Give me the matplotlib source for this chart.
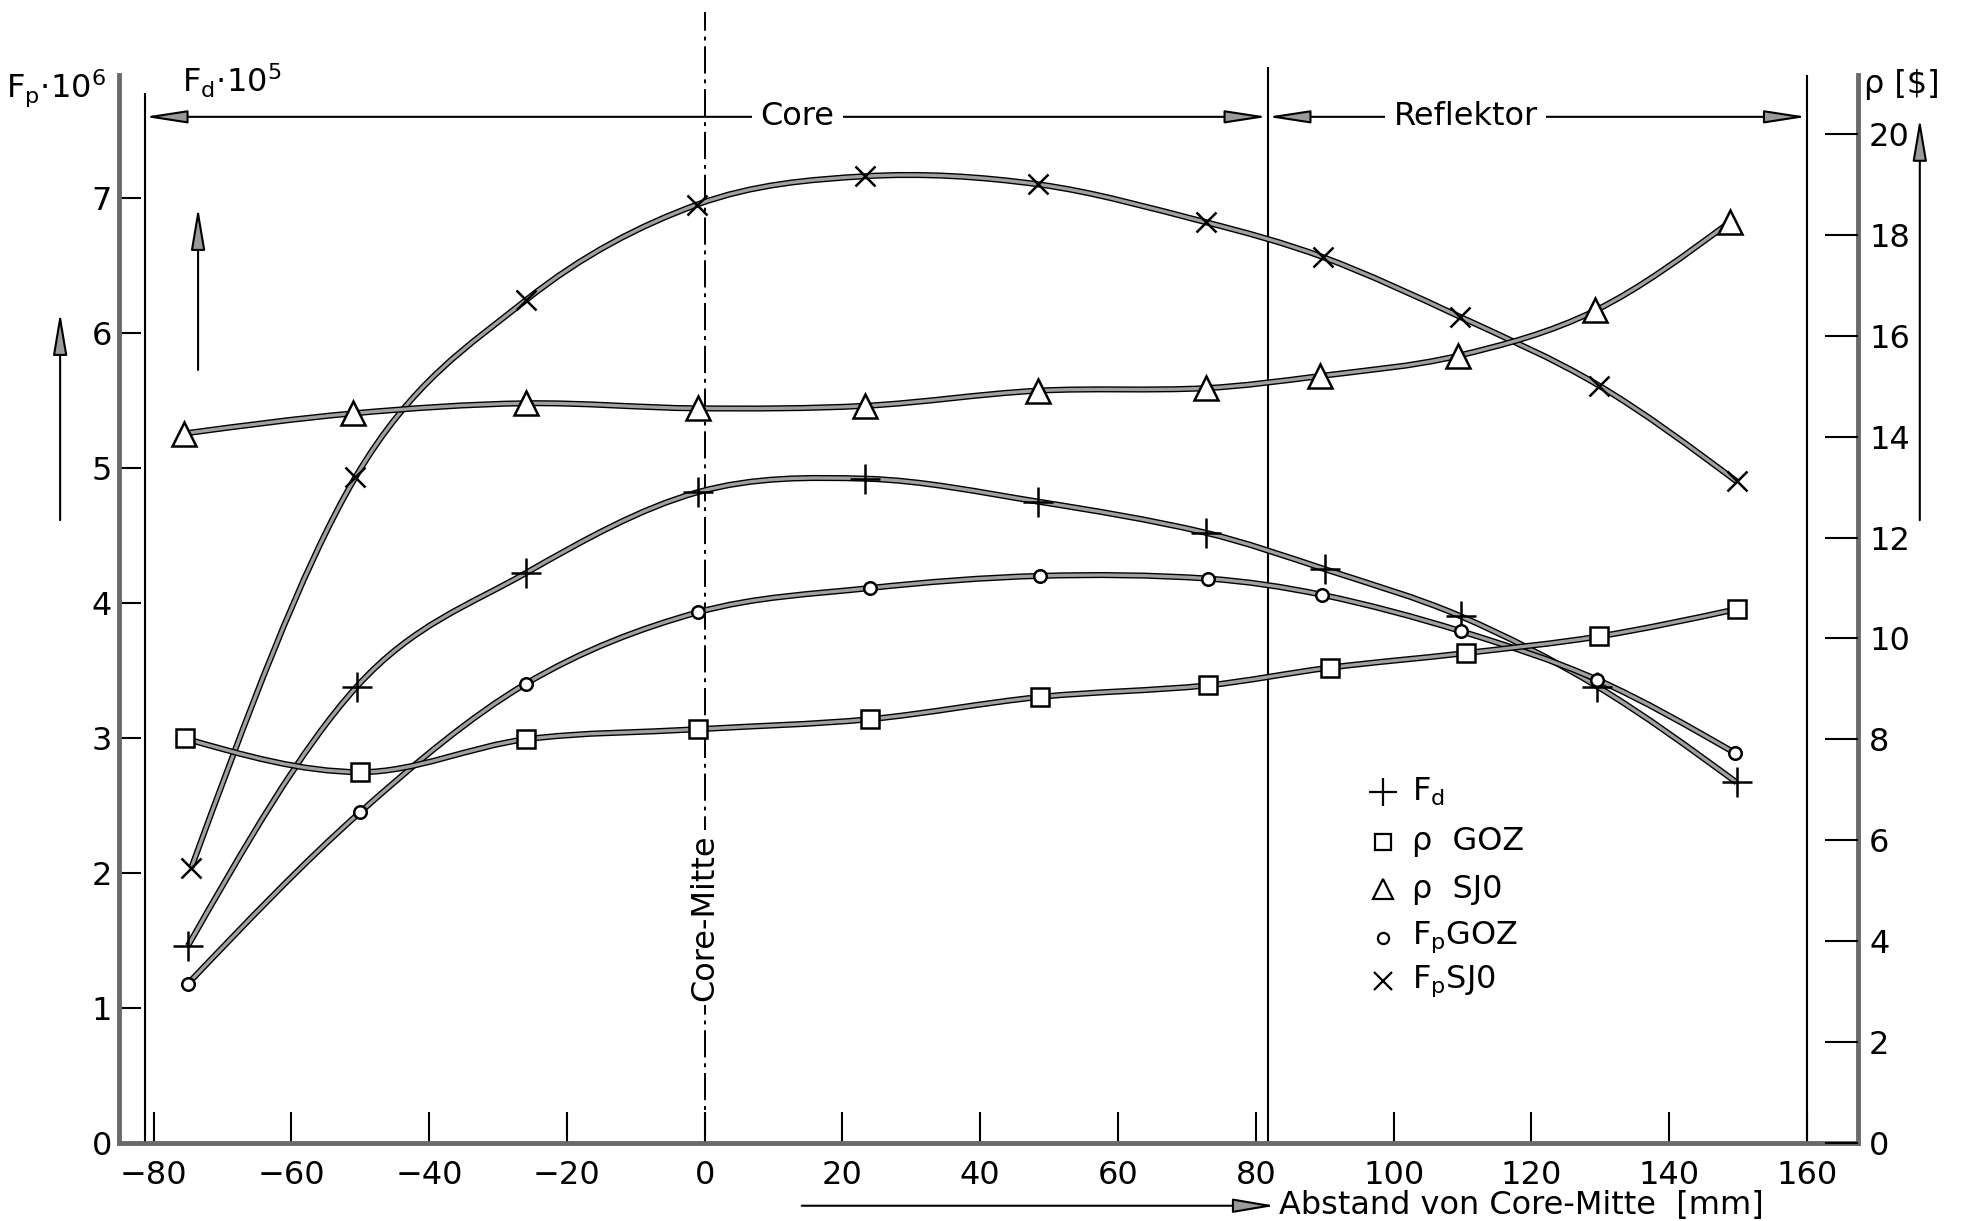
import matplotlib
matplotlib.use('Agg')
import matplotlib.pyplot as plt
import matplotlib.patheffects as pe
from matplotlib.path import Path
from matplotlib.patches import PathPatch, FancyArrowPatch
import numpy as np

plt.rcParams['font.family'] = ['DejaVu Sans']
plt.rcParams['mathtext.fontset'] = 'dejavusans'

# --- data (x in mm, Fp/Fd on left axis, rho on right axis)
x_fd = [-75, -50.5, -26, -1, 23.3, 48.4, 72.7, 90, 109.8, 129.6, 149.8]
fd = [1.46, 3.38, 4.22, 4.82, 4.92, 4.75, 4.52, 4.25, 3.90, 3.38, 2.67]

x_fp_goz = [-75, -50, -26, -1, 24, 48.7, 73, 89.6, 109.8, 129.6, 149.5]
fp_goz = [1.18, 2.45, 3.40, 3.93, 4.11, 4.20, 4.18, 4.06, 3.79, 3.43, 2.89]

x_fp_sjo = [-74.5, -50.7, -26, -1.1, 23.3, 48.4, 72.7, 89.8, 109.6, 129.8, 149.8]
fp_sjo = [2.04, 4.93, 6.24, 6.95, 7.16, 7.10, 6.82, 6.56, 6.12, 5.61, 4.90]

x_rho_goz = [-75.5, -50, -26, -1, 24, 48.7, 73, 90.7, 110.5, 129.8, 149.8]
rho_goz = [8.02, 7.35, 8.0, 8.2, 8.40, 8.84, 9.07, 9.42, 9.71, 10.04, 10.58]

x_rho_sjo = [-75.6, -51, -26, -1, 23.3, 48.4, 72.7, 89.3, 109.3, 129.3, 148.9]
rho_sjo = [14.06, 14.46, 14.66, 14.56, 14.61, 14.91, 14.96, 15.2, 15.6, 16.5, 18.26]

xticks = [-80, -60, -40, -20, 0, 20, 40, 60, 80, 100, 120, 140, 160]
left_ticks = [0, 1, 2, 3, 4, 5, 6, 7]
right_ticks = [0, 2, 4, 6, 8, 10, 12, 14, 16, 18, 20]

core_left = -81.3
core_right = 81.7
refl_right = 160

FS = 23
LINE_FX = [pe.Stroke(linewidth=4.4, foreground='black'), pe.Normal()]


def smooth_path(x, y):
    # cubic hermite through the measured points (x-parametrised), as bezier segments
    x = np.asarray(x, float)
    y = np.asarray(y, float)
    n = len(x)
    s = np.zeros(n)
    for i in range(n):
        if i == 0:
            s[i] = (y[1] - y[0]) / (x[1] - x[0])
        elif i == n - 1:
            s[i] = (y[-1] - y[-2]) / (x[-1] - x[-2])
        else:
            s[i] = (y[i + 1] - y[i - 1]) / (x[i + 1] - x[i - 1])
    # ends: make the curve bend naturally instead of straight
    s[0] = 1.5 * (y[1] - y[0]) / (x[1] - x[0]) - 0.5 * s[1]
    s[-1] = 1.5 * (y[-1] - y[-2]) / (x[-1] - x[-2]) - 0.5 * s[-2]
    verts = [(x[0], y[0])]
    codes = [Path.MOVETO]
    for i in range(n - 1):
        dx = x[i + 1] - x[i]
        verts += [(x[i] + dx / 3, y[i] + s[i] * dx / 3),
                  (x[i + 1] - dx / 3, y[i + 1] - s[i + 1] * dx / 3),
                  (x[i + 1], y[i + 1])]
        codes += [Path.CURVE4] * 3
    return Path(verts, codes)


def draw_series(ax, x, y, marker, ms, mfc='white'):
    patch = PathPatch(smooth_path(x, y), facecolor='none', edgecolor='#a0a0a0',
                      linewidth=2.4, zorder=2)
    patch.set_path_effects(LINE_FX)
    ax.add_patch(patch)
    ax.plot(x, y, linestyle='none', marker=marker, markersize=ms, mfc=mfc,
            mec='black', mew=1.8, zorder=4)


fig = plt.figure(figsize=(19.65, 12.21), dpi=100)
ax = fig.add_axes([0.0606, 0.0639, 0.8849, 0.8747])
ax2 = ax.twinx()

ax.set_xlim(-85, 167.4)
ax.set_ylim(0, 7.91)
ax2.set_ylim(0, 7.91 * 2.676)

draw_series(ax, x_fp_sjo, fp_sjo, 'x', 14, mfc='black')
draw_series(ax, x_fd, fd, '+', 22, mfc='black')
draw_series(ax, x_fp_goz, fp_goz, 'o', 9)
draw_series(ax2, x_rho_goz, rho_goz, 's', 13)
draw_series(ax2, x_rho_sjo, rho_sjo, '^', 17)

# spines
ax.spines['top'].set_visible(False)
for s in ax2.spines.values():
    s.set_visible(False)
for s in ['left', 'right', 'bottom']:
    ax.spines[s].set_linewidth(3.5)
    ax.spines[s].set_color('#6a6a6a')

ax.set_xticks(xticks)
ax.set_yticks(left_ticks)
ax2.set_yticks(right_ticks)
ax.tick_params(axis='x', direction='in', length=22, width=1.5, pad=12, labelsize=FS)
ax.tick_params(axis='y', direction='in', length=16, width=1.5, pad=5, labelsize=FS)
ax2.tick_params(axis='y', direction='in', length=24, width=1.5, pad=8, labelsize=FS)

# structure lines
ax.plot([core_left, core_left], [0, 7.77], color='black', lw=1.5, zorder=1)
ax.plot([core_right, core_right], [0, 7.96], color='black', lw=1.5, zorder=1, clip_on=False)
ax.plot([refl_right, refl_right], [0, 7.9], color='black', lw=1.5, zorder=1)
ax.plot([0, 0], [0, 8.38], color='black', lw=1.4, linestyle=(0, (14, 3, 2, 3)),
        zorder=1, clip_on=False)
ax.text(0, 1.67, 'Core-Mitte', rotation=90, ha='center', va='center', fontsize=FS,
        bbox=dict(facecolor='white', edgecolor='none', pad=3), zorder=3)

# region arrows
arrow_kw = dict(arrowstyle='<|-|>,head_length=1.3,head_width=0.2', color='black',
                lw=1.5, shrinkA=0, shrinkB=0, mutation_scale=20, fc='#9a9a9a')
ax.annotate('', xy=(core_left, 7.6), xytext=(core_right, 7.6), arrowprops=arrow_kw)
ax.annotate('', xy=(core_right, 7.6), xytext=(refl_right, 7.6), arrowprops=arrow_kw)
ax.text(13.5, 7.6, 'Core', ha='center', va='center', fontsize=FS,
        bbox=dict(facecolor='white', edgecolor='none', pad=6))
ax.text(110.5, 7.6, 'Reflektor', ha='center', va='center', fontsize=FS,
        bbox=dict(facecolor='white', edgecolor='none', pad=6))

# legend drawn as marker + text pairs
leg_markers = ['+', 's', '^', 'o', 'x']
leg_sizes = [20, 11, 14, 8, 13]
leg_labels = [r'F$_\mathrm{d}$', 'ρ  GOZ', 'ρ  SJ0', r'F$_\mathrm{p}$GOZ', r'F$_\mathrm{p}$SJ0']
leg_y = [2.60, 2.23, 1.88, 1.52, 1.20]
for mk, ms, lab, yy in zip(leg_markers, leg_sizes, leg_labels, leg_y):
    ax.plot([98.4], [yy], marker=mk, markersize=ms, mfc='white', mec='black',
            mew=1.6, linestyle='none')
    ax.text(102.7, yy, lab, ha='left', va='center', fontsize=FS)

# axis titles and arrows
fig.text(0.0286, 0.928, r'F$_\mathrm{p}$$\cdot$10$^\mathrm{6}$', ha='center', va='center', fontsize=FS)
fig.text(0.118, 0.934, r'F$_\mathrm{d}$$\cdot$10$^\mathrm{5}$', ha='center', va='center', fontsize=FS)
fig.text(0.968, 0.931, 'ρ [$]', ha='center', va='center', fontsize=FS)
fig_arrow = dict(arrowstyle='-|>,head_length=1.3,head_width=0.22', color='black', lw=1.5,
                 shrinkA=0, shrinkB=0, mutation_scale=20, fc='#9a9a9a')
for p0, p1 in [((0.0306, 0.574), (0.0306, 0.744)),
               ((0.1008, 0.697), (0.1008, 0.830)),
               ((0.977, 0.574), (0.977, 0.903)),
               ((0.408, 0.0125), (0.649, 0.0125))]:
    fig.add_artist(FancyArrowPatch(p0, p1, transform=fig.transFigure, **fig_arrow))
fig.text(0.651, 0.0125, 'Abstand von Core-Mitte  [mm]', ha='left', va='center', fontsize=FS)

fig.savefig('out.png', dpi=100)
